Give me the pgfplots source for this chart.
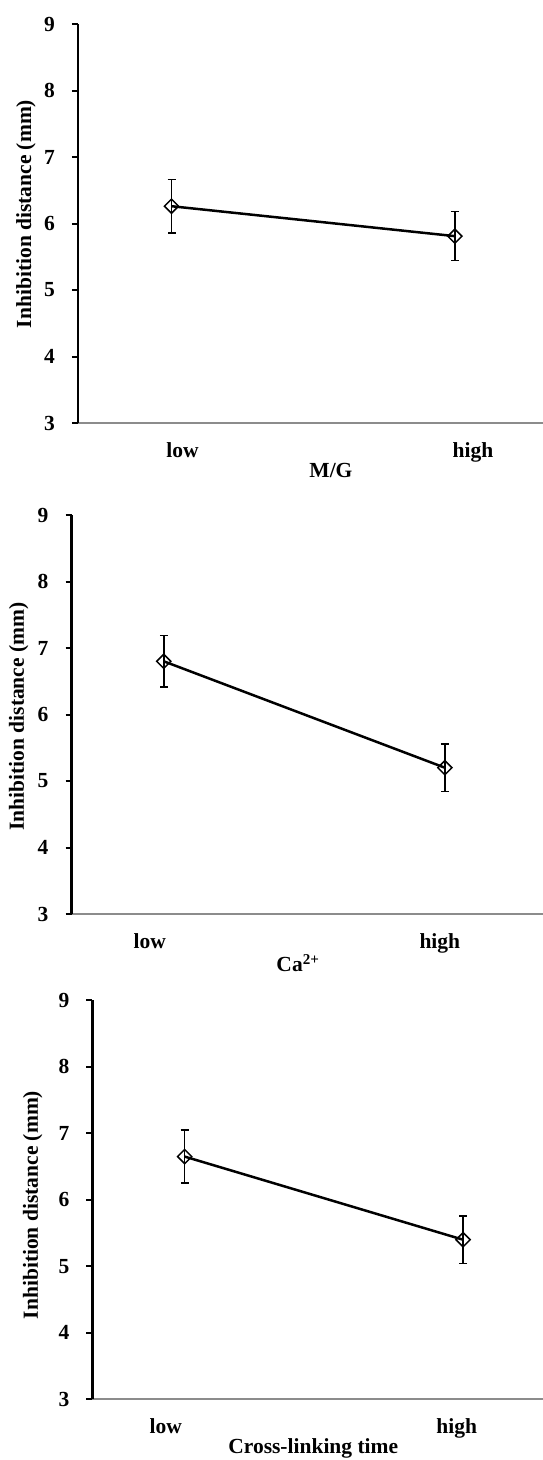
\documentclass[border=0pt]{standalone}
\usepackage{fontspec}
\setmainfont{Liberation Serif}
\usepackage{pgfplots}
\pgfplotsset{compat=1.18}

\pgfplotsset{
  effectplot/.style={
    scale only axis,
    anchor=north west,
    height=399pt,
    axis x line*=bottom,
    axis y line*=left,
    ymin=3, ymax=9, ytick={3,4,...,9},
    tick align=outside,
    major tick length=6pt,
    ytick style={black, line width=2pt},
    xtick style={draw=none},
    x axis line style={draw=black!45, line width=2pt},
    y axis line style={black, line width=2.5pt},
    label style={font=\fontsize{21.5}{25}\selectfont\bfseries},
    ticklabel style={font=\fontsize{21.5}{25}\selectfont\bfseries},
    /pgf/number format/assume math mode=true,
    yticklabel style={anchor=east, inner sep=0pt, xshift=-17pt},
    xticklabel style={anchor=base, inner sep=0pt, yshift=-28.5pt},
    xticklabels={low,high},
    ylabel={Inhibition distance (mm)},
    xlabel style={anchor=center},
    ylabel style={anchor=center},
    clip=false,
  },
  effectline/.style={
    black, line width=2.5pt,
    mark=square, mark size=5pt,
    mark options={rotate=45, line width=1.5pt, solid},
    error bars/.cd, y dir=both, y explicit,
    error bar style={line width=1.5pt, black},
    error mark options={rotate=90, line width=1.5pt, mark size=4pt, black},
  },
}

\begin{document}
\begin{tikzpicture}
\useasboundingbox (0pt,0pt) rectangle (543pt,-1460pt);

% M/G
\begin{axis}[effectplot,
  at={(78pt,-24pt)}, width=465pt,
  xmin=-0.330, xmax=1.311,
  xtick={0.039,1.064},
  xlabel={M/G},
  xlabel style={at={(axis description cs:0.544,-0.120)}},
  ylabel style={at={(axis description cs:-0.112,0.524)}},
]
\addplot[effectline] coordinates {
  (0,6.26) +- (0,0.40)
  (1,5.81) +- (0,0.37)
};
\end{axis}

% Ca2+
\begin{axis}[effectplot,
  at={(71.7pt,-515pt)}, width=471.3pt,
  xmin=-0.3275, xmax=1.349,
  xtick={-0.05,0.982},
  xlabel={Ca\textsuperscript{2+}},
  xlabel style={at={(axis description cs:0.480,-0.123)}},
  ylabel style={at={(axis description cs:-0.1125,0.495)}},
]
\addplot[effectline] coordinates {
  (0,6.80) +- (0,0.39)
  (1,5.20) +- (0,0.36)
};
\end{axis}

% Cross-linking time
\begin{axis}[effectplot,
  at={(92.5pt,-1000.3pt)}, width=450.5pt,
  xmin=-0.331, xmax=1.287,
  xtick={-0.068,0.977},
  xlabel={Cross-linking time},
  xlabel style={at={(axis description cs:0.49,-0.122)}},
  ylabel style={at={(axis description cs:-0.133,0.487)}},
]
\addplot[effectline] coordinates {
  (0,6.65) +- (0,0.40)
  (1,5.40) +- (0,0.36)
};
\end{axis}
\end{tikzpicture}
\end{document}
